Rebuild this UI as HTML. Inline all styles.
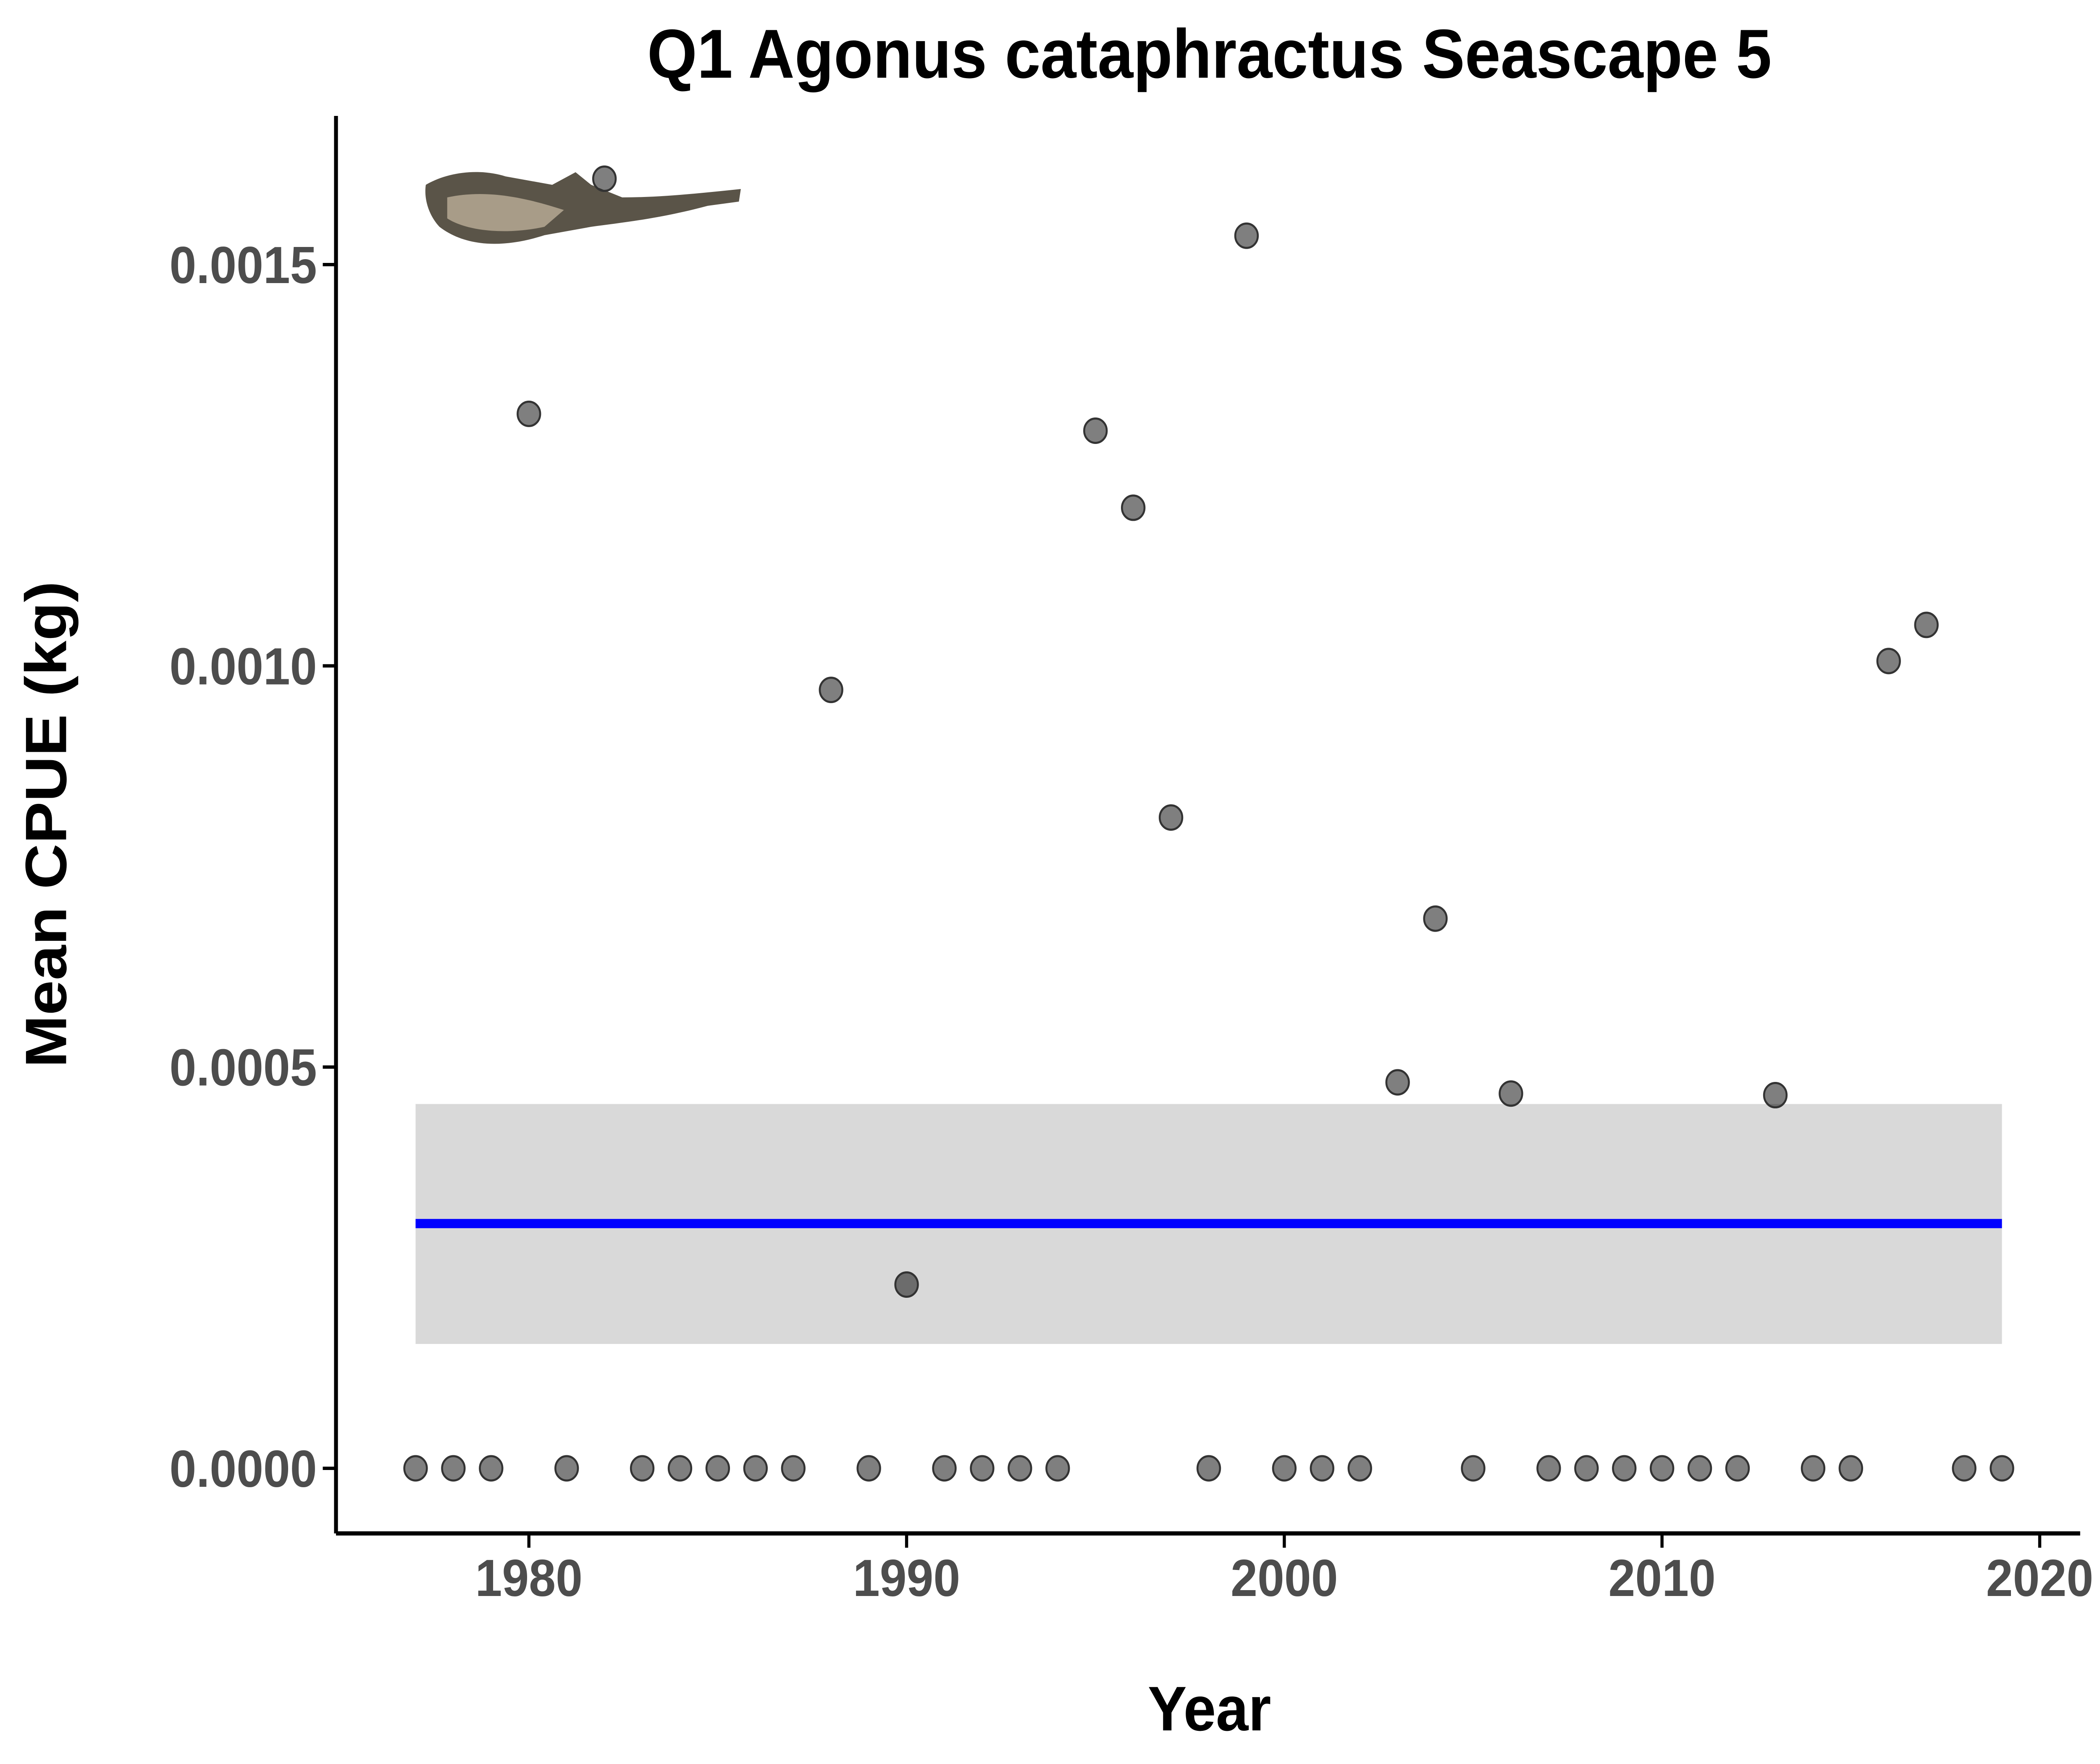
<!DOCTYPE html>
<html><head><meta charset="utf-8"><style>
html,body{margin:0;padding:0;background:#fff;overflow:hidden;width:100%;height:100%;}
svg{display:block;width:100vw;height:100vh;font-family:"Liberation Sans",Arial,sans-serif;}
</style></head><body>
<svg id="chart" viewBox="0 0 5400 4200" preserveAspectRatio="none">
<rect width="5400" height="4200" fill="#fff"/>
<text x="3110" y="185" text-anchor="middle" font-size="165" font-weight="bold">Q1 Agonus cataphractus Seascape 5</text>
<g id="fish">
<path d="M1095,440 C1150,410 1230,400 1300,420 L1420,440 L1480,410 L1520,440 L1600,470 C1700,470 1800,460 1905,450 L1900,480 L1820,490 C1700,520 1600,530 1520,540 L1400,560 C1300,590 1200,590 1130,540 C1100,510 1090,470 1095,440 Z" fill="#5a5448"/>
<path d="M1150,470 C1250,450 1350,470 1450,500 L1400,540 C1300,560 1200,550 1150,520 Z" fill="#a89c88"/>
</g>
<g id="plot"></g>
<line x1="864" y1="276" x2="864" y2="3651" stroke="#000" stroke-width="10"/>
<line x1="864" y1="3651" x2="5349" y2="3651" stroke="#000" stroke-width="10"/>
<text x="3110" y="4120" text-anchor="middle" font-size="150" font-weight="bold">Year</text>
<text transform="translate(170,1963) rotate(-90)" text-anchor="middle" font-size="150" font-weight="bold">Mean CPUE (kg)</text>
</svg>
<script>
const zeroYears=[1977,1978,1979,1981,1983,1984,1985,1986,1987,1989,1991,1992,1993,1994,1998,2000,2001,2002,2005,2007,2008,2009,2010,2011,2012,2014,2015,2018,2019];
const nzYears=[1980,1982,1988,1990,1995,1996,1997,1999,2003,2004,2006,2013,2016,2017];
const nzValues=[0.001314,0.001607,0.000970,0.000229,0.001293,0.001197,0.000811,0.001536,0.000481,0.000685,0.000467,0.000465,0.001006,0.001051];
const meanValue=0.000305;
const bandLow=0.000155;
const bandHigh=0.000454;
const fitStart=1977, fitEnd=2019;
const xTicks=[1980,1990,2000,2010,2020];
const yTicks=[0,0.0005,0.0010,0.0015];
const yTickLabels=["0.0000","0.0005","0.0010","0.0015"];

const NS="http://www.w3.org/2000/svg";
const X=v=>1360+(v-1980)*(5245-1360)/40;
const Y=v=>3496-v*(3496-630)/0.0015;
const svg=document.getElementById('chart');
const plot=document.getElementById('plot');
function mk(t,a,p){const e=document.createElementNS(NS,t);for(const k in a)e.setAttribute(k,a[k]);(p||svg).appendChild(e);return e;}

const band=mk('rect',{x:X(fitStart),y:Y(bandHigh),width:X(fitEnd)-X(fitStart),height:Y(bandLow)-Y(bandHigh),fill:'#d9d9d9'},plot);


const fit=mk('line',{x1:X(fitStart),x2:X(fitEnd),y1:Y(meanValue),y2:Y(meanValue),stroke:'#0000ff','stroke-width':22},plot);



function pt(yr,v){
  const c=mk('circle',{cx:X(yr),cy:Y(v),r:29,fill:'rgba(0,0,0,0.5)',stroke:'#333','stroke-width':5},plot);
  
  
}
zeroYears.forEach(y=>pt(y,0));
nzYears.forEach((y,i)=>pt(y,nzValues[i]));

xTicks.forEach(t=>{
  const l=mk('line',{x1:X(t),x2:X(t),y1:3651,y2:3685,stroke:'#000','stroke-width':8});
  
  
  const tx=mk('text',{x:X(t),y:3800,'text-anchor':'middle','font-size':124,'font-weight':'bold',fill:'#4d4d4d'});
  tx.textContent=t;
  
  
});
yTicks.forEach((t,i)=>{
  const l=mk('line',{x1:830,x2:864,y1:Y(t),y2:Y(t),stroke:'#000','stroke-width':8});
  
  
  const tx=mk('text',{x:815,y:Y(t)+44,'text-anchor':'end','font-size':124,'font-weight':'bold',fill:'#4d4d4d'});
  tx.textContent=yTickLabels[i];
  
  
});
</script>
</body></html>
